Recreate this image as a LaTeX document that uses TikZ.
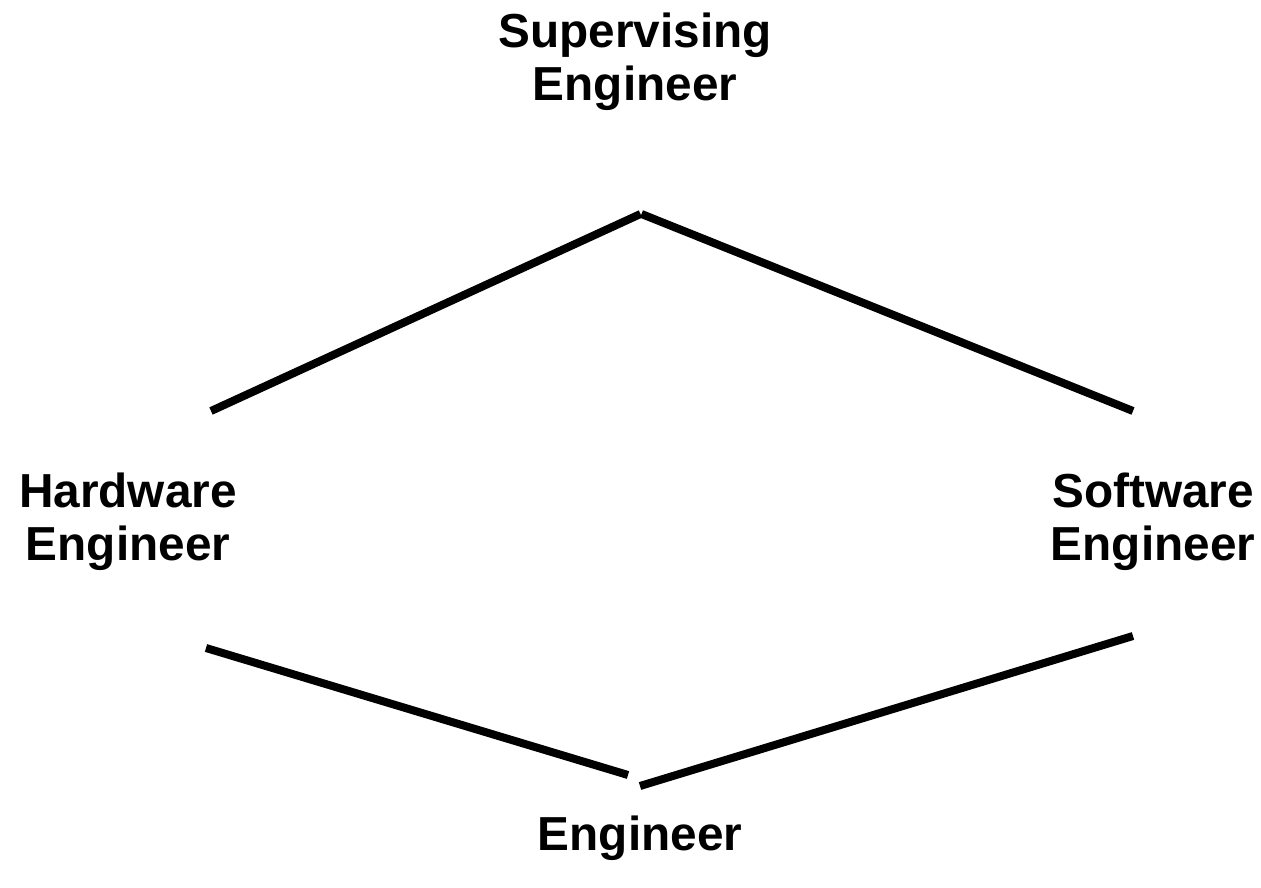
\documentclass[tikz,border=0pt]{standalone}
\usepackage{fontspec}
\setmainfont{Liberation Sans}
\begin{document}
\begin{tikzpicture}[x=0.75pt,y=-0.75pt,
  lbl/.style={font=\fontsize{35.8}{40}\selectfont\bfseries, align=center, inner sep=0pt},
  edge/.style={line width=6pt, line cap=butt}]
\useasboundingbox (0,0) rectangle (1261,888);
\node[lbl] (sup) at (635,62) {Supervising\\Engineer};
\node[lbl] (hw) at (128,522) {Hardware\\Engineer};
\node[lbl] (sw) at (1153,522) {Software\\Engineer};
\node[lbl] (eng) at (640,838) {Engineer};
\coordinate (a1) at (211,411);
\coordinate (a2) at (640.5,214);
\coordinate (b1) at (641.5,214);
\coordinate (b2) at (1133,411);
\coordinate (c1) at (206,648);
\coordinate (c2) at (628,775);
\coordinate (d1) at (640,786);
\coordinate (d2) at (1133,636);
\draw[edge] (a1) -- (a2);
\draw[edge] (b1) -- (b2);
\draw[edge] (c1) -- (c2);
\draw[edge] (d1) -- (d2);
\end{tikzpicture}
\end{document}
